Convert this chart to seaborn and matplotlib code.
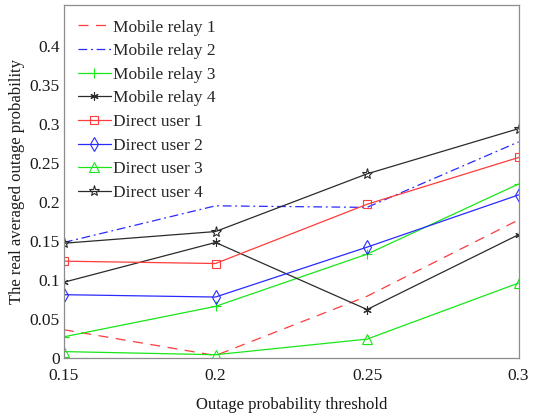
import matplotlib
matplotlib.use("Agg")
import matplotlib.pyplot as plt
import pandas as pd
import seaborn as sns

sns.set_style("white")
plt.rcParams['font.family'] = ['Liberation Serif', 'DejaVu Serif']

thresholds = [0.15, 0.2, 0.25, 0.3]

mobile_relay_1 = [0.036, 0.003, 0.079, 0.177]
mobile_relay_2 = [0.148, 0.195, 0.193, 0.277]
mobile_relay_3 = [0.027, 0.066, 0.133, 0.223]
mobile_relay_4 = [0.097, 0.148, 0.062, 0.158]
direct_user_1 = [0.124, 0.121, 0.197, 0.257]
direct_user_2 = [0.081, 0.078, 0.142, 0.209]
direct_user_3 = [0.008, 0.004, 0.024, 0.096]
direct_user_4 = [0.147, 0.162, 0.236, 0.294]

# name, values, colour, linestyle, marker, marker size
series = [
    ("Mobile relay 1", mobile_relay_1, "#ff3b3b", (0, (8, 6)), None, 0),
    ("Mobile relay 2", mobile_relay_2, "#2a2aff", (0, (7, 3, 1.5, 3)), None, 0),
    ("Mobile relay 3", mobile_relay_3, "#19e619", "-", "+", 7),
    ("Mobile relay 4", mobile_relay_4, "#2b2b2b", "-", (6, 2, 0), 6),
    ("Direct user 1", direct_user_1, "#ff3b3b", "-", "s", 5.5),
    ("Direct user 2", direct_user_2, "#2a2aff", "-", "d", 7),
    ("Direct user 3", direct_user_3, "#19e619", "-", "^", 7),
    ("Direct user 4", direct_user_4, "#2b2b2b", "-", "*", 8),
]

fig = plt.figure(figsize=(5.33, 4.2), dpi=100)
ax = fig.add_axes([0.120, 0.148, 0.853, 0.839])

for name, vals, col, ls, mk, ms in series:
    df = pd.DataFrame({"threshold": thresholds, "prob": vals})
    filled = mk in ("+", (6, 2, 0))
    sns.lineplot(x="threshold", y="prob", data=df, ax=ax, color=col,
                 linestyle=ls, linewidth=0.9, marker=mk,
                 markersize=ms,
                 markerfacecolor=col if filled else "none",
                 markeredgecolor=col, markeredgewidth=0.8,
                 label=name)

ax.set_xlim(0.15, 0.3)
ax.set_ylim(0, 0.452)
ax.set_xticks([0.15, 0.2, 0.25, 0.3])
ax.set_xticklabels(["0.15", "0.2", "0.25", "0.3"])
ax.set_yticks([0, 0.05, 0.1, 0.15, 0.2, 0.25, 0.3, 0.35, 0.4])
ax.set_yticklabels(["0", "0.05", "0.1", "0.15", "0.2", "0.25", "0.3", "0.35", "0.4"])
ax.tick_params(direction="in", length=4, width=0.6, colors="#262626",
               labelsize=12.5, labelcolor="#1a1a1a")
ax.tick_params(axis="y", pad=3)
ax.tick_params(axis="x", pad=7)
for sp in ax.spines.values():
    sp.set_visible(True)
    sp.set_color("#8c8c8c")
    sp.set_linewidth(0.9)

ax.set_xlabel("Outage probability threshold", fontsize=12, color="#1a1a1a", labelpad=10)
ax.set_ylabel("The real averaged outage probability", fontsize=12, color="#1a1a1a", labelpad=3)

ax.legend(loc="upper left", frameon=False, fontsize=12.5, handlelength=1.9,
          handletextpad=0.15, labelspacing=0.43, borderaxespad=0.4,
          bbox_to_anchor=(0.0, 1.0))

fig.savefig("out.png", dpi=100)
